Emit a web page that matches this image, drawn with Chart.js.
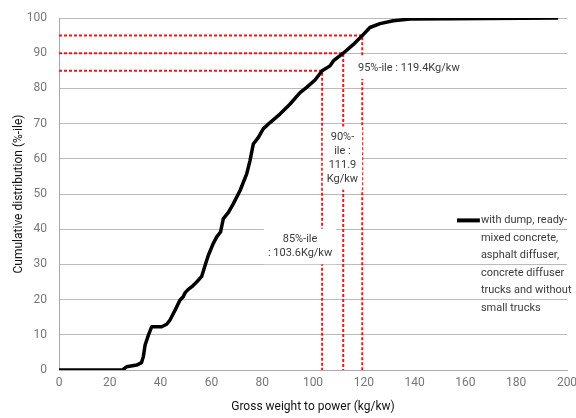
<!DOCTYPE html>
<html>
<head>
<meta charset="utf-8">
<script src="https://cdn.jsdelivr.net/npm/chart.js@4/dist/chart.umd.min.js"></script>
<style>
  html, body { margin: 0; padding: 0; background: #fff; }
  #wrap { width: 576px; height: 418px; }
</style>
</head>
<body>
<div id="wrap"><canvas id="cdfChart"></canvas></div>
<script>
// curve: gross weight to power (kg/kw) vs cumulative %
const weightToPower = [0, 25, 26.6, 30.6, 32.5, 33.2, 33.9, 35.2, 36.5, 40.4, 42.4, 43.7, 45.7, 47.6, 48.9, 49.6, 50.9, 52.2, 54.2, 56.2, 57.5, 58.8, 60.7, 62.1, 63.6, 64.7, 66.7, 68.6, 71.3, 73.9, 75.2, 76.5, 78.5, 80.4, 83.1, 87, 90.9, 94.9, 97.5, 100.8, 103.6, 106.7, 108, 111.9, 115.9, 119.4, 122.4, 126.4, 131.6, 138.2, 154, 196.5];
const cumulative = [0, 0, 0.9, 1.4, 2.1, 3.8, 7.1, 9.9, 12.3, 12.3, 13.0, 14.2, 17, 19.8, 20.8, 21.9, 22.9, 23.6, 25, 26.6, 29.7, 32.6, 35.9, 37.8, 39.2, 43, 44.8, 47.2, 51, 55.7, 59.5, 64.2, 66.1, 68.5, 70.3, 72.7, 75.5, 78.8, 80.3, 82.4, 85, 86.4, 87.8, 90, 92.5, 95, 97.3, 98.4, 99.2, 99.7, 99.8, 100];

// percentile markers
const pctLevels = [85, 90, 95];
const pctValues = [103.6, 111.9, 119.4];
const pctLabels = [
  ['85%-ile', ': 103.6Kg/kw'],
  ['90%-', 'ile :', '111.9', 'Kg/kw'],
  ['95%-ile : 119.4Kg/kw']
];
// label anchor (data coords) and text alignment
const pctLabelX = [94.9, 111.6, 117.7];
const pctLabelY = [35.1, 60.2, 85.8];
const pctLabelAlign = ['center', 'center', 'left'];

const legendLines = ['with dump, ready-', 'mixed concrete,', 'asphalt diffuser,', 'concrete diffuser', 'trucks and without', 'small trucks'];

const FONT = 'Roboto, "Noto Sans", sans-serif';

const datasets = [{
  label: legendLines.join(' '),
  data: weightToPower.map((x, i) => ({ x: x, y: cumulative[i] })),
  borderColor: '#000',
  borderWidth: 3.5,
  pointRadius: 0,
  tension: 0,
  borderJoinStyle: 'round'
}];
pctLevels.forEach((p, i) => {
  datasets.push({
    label: p + '%',
    data: [{ x: 0, y: p }, { x: pctValues[i], y: p }, { x: pctValues[i], y: 0 }],
    borderColor: 'rgb(236,24,28)',
    borderWidth: 2,
    borderDash: [3, 2],
    pointRadius: 0,
    tension: 0
  });
});

// white-boxed percentile labels
const labelPlugin = {
  id: 'pctLabels',
  afterDatasetsDraw(chart) {
    const { ctx, scales: { x, y } } = chart;
    ctx.save();
    ctx.font = '11px ' + FONT;
    ctx.textBaseline = 'middle';
    const lh = 13.8;
    pctLabels.forEach((lines, i) => {
      const px = x.getPixelForValue(pctLabelX[i]);
      const py = y.getPixelForValue(pctLabelY[i]);
      const w = Math.max(...lines.map(l => ctx.measureText(l).width));
      const h = lines.length * lh;
      const left = pctLabelAlign[i] === 'left' ? px : px - w / 2;
      ctx.fillStyle = '#fff';
      ctx.fillRect(left - 4, py - h / 2 - 4, w + 8, h + 8);
      ctx.fillStyle = '#3a3a3a';
      ctx.textAlign = pctLabelAlign[i];
      lines.forEach((l, j) => {
        ctx.fillText(l, px, py - h / 2 + lh * (j + 0.5));
      });
    });
    ctx.restore();
  }
};

// legend drawn to the right, text wrapped like the original
const legendPlugin = {
  id: 'sideLegend',
  afterDraw(chart) {
    const { ctx, scales: { x, y } } = chart;
    const x0 = x.getPixelForValue(156.7);
    const x1 = x.getPixelForValue(165.7);
    const ty = y.getPixelForValue(42.5);
    ctx.save();
    ctx.strokeStyle = '#000';
    ctx.lineWidth = 4;
    ctx.beginPath();
    ctx.moveTo(x0, ty);
    ctx.lineTo(x1, ty);
    ctx.stroke();
    ctx.font = '11px ' + FONT;
    ctx.fillStyle = '#3a3a3a';
    ctx.textAlign = 'left';
    ctx.textBaseline = 'middle';
    legendLines.forEach((l, j) => ctx.fillText(l, x1 + 1, ty + j * 17.5));
    ctx.restore();
  }
};

new Chart(document.getElementById('cdfChart'), {
  type: 'line',
  data: { datasets: datasets },
  plugins: [labelPlugin, legendPlugin],
  options: {
    responsive: true,
    maintainAspectRatio: false,
    animation: false,
    layout: { padding: { top: 18, right: 9, left: 12, bottom: 0 } },
    plugins: {
      legend: { display: false },
      tooltip: { enabled: false }
    },
    scales: {
      x: {
        type: 'linear',
        min: 0,
        max: 200,
        ticks: { stepSize: 20, color: '#777', font: { family: FONT, size: 12 }, padding: 6 },
        grid: { display: false, drawTicks: false },
        border: { display: true, color: '#aaa' },
        title: { display: true, text: 'Gross weight to power (kg/kw)', color: '#111', font: { family: FONT, size: 12 }, padding: { top: 14 } },
        afterFit(s) { s.height = 48; s.paddingRight = 0; s.paddingLeft = 0; }
      },
      y: {
        min: 0,
        max: 100,
        ticks: { stepSize: 10, color: '#777', font: { family: FONT, size: 12 }, padding: 12 },
        grid: { color: '#bbb', drawTicks: false },
        border: { display: true, color: '#aaa' },
        title: { display: true, text: 'Cumulative distribution (%-ile)', color: '#111', font: { family: FONT, size: 12 }, padding: 0 },
        afterFit(s) { s.width = 47; s.paddingTop = 0; s.paddingBottom = 0; }
      }
    }
  }
});
</script>
</body>
</html>
